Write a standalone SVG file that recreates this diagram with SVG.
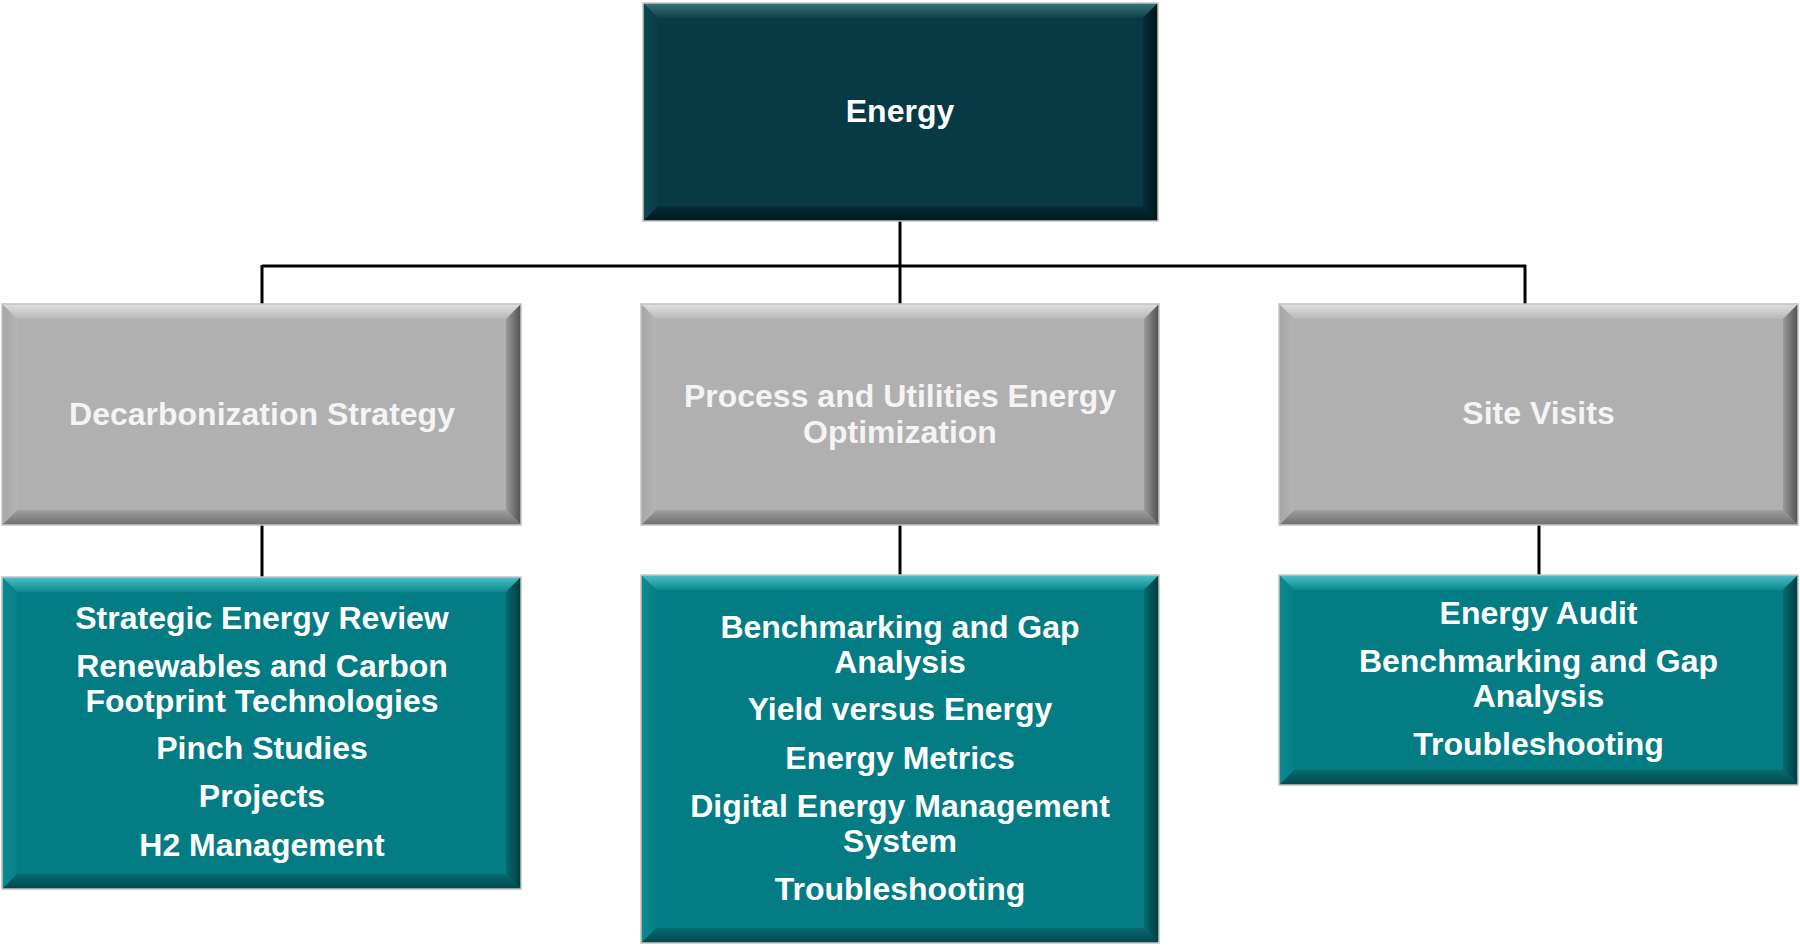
<svg xmlns="http://www.w3.org/2000/svg" width="1800" height="947" viewBox="0 0 1800 947">
<defs>
<linearGradient id="dT" x1="0" y1="0" x2="0" y2="1"><stop offset="0" stop-color="#3a747e"/><stop offset="1" stop-color="#0b4049"/></linearGradient>
<linearGradient id="dB" x1="0" y1="0" x2="0" y2="1"><stop offset="0" stop-color="#062f38"/><stop offset="1" stop-color="#02161b"/></linearGradient>
<linearGradient id="dL" x1="0" y1="0" x2="1" y2="0"><stop offset="0" stop-color="#0d4852"/><stop offset="1" stop-color="#083c46"/></linearGradient>
<linearGradient id="dR" x1="0" y1="0" x2="1" y2="0"><stop offset="0" stop-color="#052e37"/><stop offset="1" stop-color="#01141a"/></linearGradient>
<linearGradient id="gT" x1="0" y1="0" x2="0" y2="1"><stop offset="0" stop-color="#e0e0e0"/><stop offset="1" stop-color="#b8b8b8"/></linearGradient>
<linearGradient id="gB" x1="0" y1="0" x2="0" y2="1"><stop offset="0" stop-color="#a0a0a0"/><stop offset="1" stop-color="#6e6e6e"/></linearGradient>
<linearGradient id="gL" x1="0" y1="0" x2="1" y2="0"><stop offset="0" stop-color="#a6a6a6"/><stop offset="1" stop-color="#b4b4b4"/></linearGradient>
<linearGradient id="gR" x1="0" y1="0" x2="1" y2="0"><stop offset="0" stop-color="#9a9a9a"/><stop offset="1" stop-color="#505050"/></linearGradient>
<linearGradient id="tT" x1="0" y1="0" x2="0" y2="1"><stop offset="0" stop-color="#4cc0c6"/><stop offset="1" stop-color="#0b878e"/></linearGradient>
<linearGradient id="tB" x1="0" y1="0" x2="0" y2="1"><stop offset="0" stop-color="#066c72"/><stop offset="1" stop-color="#03454a"/></linearGradient>
<linearGradient id="tL" x1="0" y1="0" x2="1" y2="0"><stop offset="0" stop-color="#0d8a90"/><stop offset="1" stop-color="#067f86"/></linearGradient>
<linearGradient id="tR" x1="0" y1="0" x2="1" y2="0"><stop offset="0" stop-color="#046a70"/><stop offset="1" stop-color="#023a3e"/></linearGradient>
</defs>
<style>
text{font-family:"Liberation Sans",Arial,sans-serif;font-weight:bold;font-size:32px;fill:#ffffff;text-anchor:middle}
.gray text{fill:#f4f4f4}
.edge{fill:none;stroke:#c4c4c4;stroke-width:1.5}
.conn{stroke:#000000;stroke-width:3;fill:none}
.dark .m{fill:#073a44}.dark .t{fill:url(#dT)}.dark .b{fill:url(#dB)}.dark .l{fill:url(#dL)}.dark .r{fill:url(#dR)}
.gray .m{fill:#b0b0b0}.gray .t{fill:url(#gT)}.gray .b{fill:url(#gB)}.gray .l{fill:url(#gL)}.gray .r{fill:url(#gR)}
.teal .m{fill:#047c83}.teal .t{fill:url(#tT)}.teal .b{fill:url(#tB)}.teal .l{fill:url(#tL)}.teal .r{fill:url(#tR)}
</style>
<rect width="1800" height="947" fill="#ffffff"/>
<g id="connectors">
<line class="conn" x1="900" y1="221" x2="900" y2="266"/>
<line class="conn" x1="262" y1="266" x2="1526" y2="266"/>
<line class="conn" x1="262" y1="265" x2="262" y2="304"/>
<line class="conn" x1="900" y1="265" x2="900" y2="304"/>
<line class="conn" x1="1525" y1="265" x2="1525" y2="304"/>
<line class="conn" x1="262" y1="525" x2="262" y2="577"/>
<line class="conn" x1="900" y1="525" x2="900" y2="575"/>
<line class="conn" x1="1539" y1="525" x2="1539" y2="575"/>
</g>
<g id="energy" class="dark">
<rect class="m" x="643" y="3" width="515" height="218"/>
<polygon class="t" points="643,3 1158,3 1143,18 658,18"/>
<polygon class="b" points="643,221 1158,221 1143,206 658,206"/>
<polygon class="l" points="643,3 658,18 658,206 643,221"/>
<polygon class="r" points="1158,3 1143,18 1143,206 1158,221"/>
<rect class="edge" x="643" y="3" width="515" height="218"/>
<text x="900" y="122">Energy</text>
</g>
<g id="decarbonization" class="gray">
<rect class="m" x="2" y="304" width="519" height="221"/>
<polygon class="t" points="2,304 521,304 506,319 17,319"/>
<polygon class="b" points="2,525 521,525 506,510 17,510"/>
<polygon class="l" points="2,304 17,319 17,510 2,525"/>
<polygon class="r" points="521,304 506,319 506,510 521,525"/>
<rect class="edge" x="2" y="304" width="519" height="221"/>
<text x="262" y="425">Decarbonization Strategy</text>
</g>
<g id="process" class="gray">
<rect class="m" x="641" y="304" width="518" height="221"/>
<polygon class="t" points="641,304 1159,304 1144,319 656,319"/>
<polygon class="b" points="641,525 1159,525 1144,510 656,510"/>
<polygon class="l" points="641,304 656,319 656,510 641,525"/>
<polygon class="r" points="1159,304 1144,319 1144,510 1159,525"/>
<rect class="edge" x="641" y="304" width="518" height="221"/>
<text x="900" y="407">Process and Utilities Energy</text>
<text x="900" y="443">Optimization</text>
</g>
<g id="sitevisits" class="gray">
<rect class="m" x="1279" y="304" width="519" height="221"/>
<polygon class="t" points="1279,304 1798,304 1783,319 1294,319"/>
<polygon class="b" points="1279,525 1798,525 1783,510 1294,510"/>
<polygon class="l" points="1279,304 1294,319 1294,510 1279,525"/>
<polygon class="r" points="1798,304 1783,319 1783,510 1798,525"/>
<rect class="edge" x="1279" y="304" width="519" height="221"/>
<text x="1538.5" y="424">Site Visits</text>
</g>
<g id="decarb-items" class="teal">
<rect class="m" x="2" y="577" width="519" height="312"/>
<polygon class="t" points="2,577 521,577 506,592 17,592"/>
<polygon class="b" points="2,889 521,889 506,874 17,874"/>
<polygon class="l" points="2,577 17,592 17,874 2,889"/>
<polygon class="r" points="521,577 506,592 506,874 521,889"/>
<rect class="edge" x="2" y="577" width="519" height="312"/>
<text x="262" y="629">Strategic Energy Review</text>
<text x="262" y="677">Renewables and Carbon</text>
<text x="262" y="712">Footprint Technologies</text>
<text x="262" y="759">Pinch Studies</text>
<text x="262" y="807">Projects</text>
<text x="262" y="856">H2 Management</text>
</g>
<g id="process-items" class="teal">
<rect class="m" x="641" y="575" width="518" height="368"/>
<polygon class="t" points="641,575 1159,575 1144,590 656,590"/>
<polygon class="b" points="641,943 1159,943 1144,928 656,928"/>
<polygon class="l" points="641,575 656,590 656,928 641,943"/>
<polygon class="r" points="1159,575 1144,590 1144,928 1159,943"/>
<rect class="edge" x="641" y="575" width="518" height="368"/>
<text x="900" y="638">Benchmarking and Gap</text>
<text x="900" y="673">Analysis</text>
<text x="900" y="720">Yield versus Energy</text>
<text x="900" y="769">Energy Metrics</text>
<text x="900" y="817">Digital Energy Management</text>
<text x="900" y="852">System</text>
<text x="900" y="900">Troubleshooting</text>
</g>
<g id="site-items" class="teal">
<rect class="m" x="1279" y="575" width="519" height="210"/>
<polygon class="t" points="1279,575 1798,575 1783,590 1294,590"/>
<polygon class="b" points="1279,785 1798,785 1783,770 1294,770"/>
<polygon class="l" points="1279,575 1294,590 1294,770 1279,785"/>
<polygon class="r" points="1798,575 1783,590 1783,770 1798,785"/>
<rect class="edge" x="1279" y="575" width="519" height="210"/>
<text x="1538.5" y="624">Energy Audit</text>
<text x="1538.5" y="672">Benchmarking and Gap</text>
<text x="1538.5" y="707">Analysis</text>
<text x="1538.5" y="755">Troubleshooting</text>
</g>
</svg>
